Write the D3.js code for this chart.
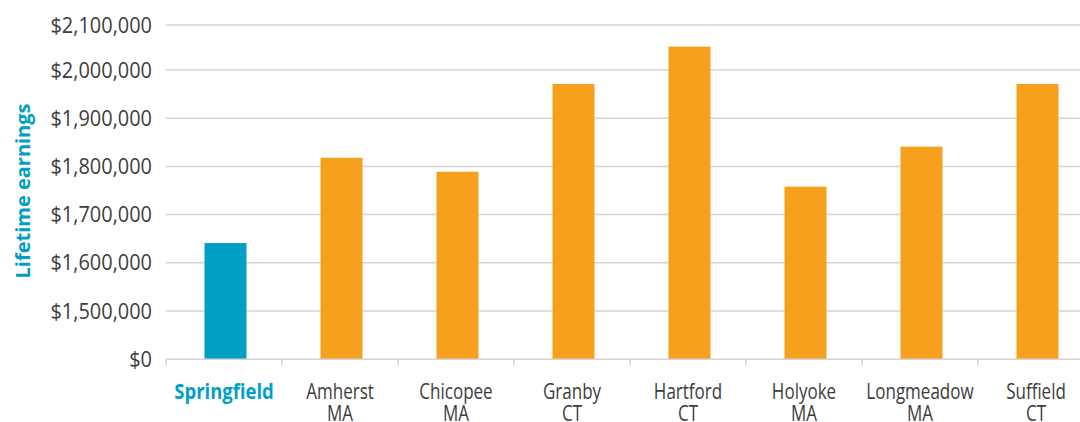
<!DOCTYPE html>
<html>
<head>
<meta charset="utf-8">
<script src="https://cdn.jsdelivr.net/npm/d3@7"></script>
<style>
  html, body { margin: 0; padding: 0; background: #fff; }
  svg { display: block; }
  text { font-family: "Open Sans", "Noto Sans", sans-serif; }
</style>
</head>
<body>
<svg id="chart" width="1080" height="422"></svg>
<script>
// ---- data ----
const cityNames = ["Springfield", "Amherst", "Chicopee", "Granby", "Hartford", "Holyoke", "Longmeadow", "Suffield"];
const stateNames = ["", "MA", "MA", "CT", "CT", "MA", "MA", "CT"];
const earnings = [1641000, 1818000, 1789000, 1971000, 2052000, 1758000, 1841000, 1971000];
const yTickValues = [0, 1500000, 1600000, 1700000, 1800000, 1900000, 2000000, 2100000];
const yTitle = "Lifetime earnings";

// ---- layout ----
const svg = d3.select("#chart");
const W = 1080;
const teal = "#00A0C6";
const orange = "#F6A01D";
const grid = "#D4D4D4";
const textCol = "#3C3C3C";

const x = d3.scaleBand()
  .domain(cityNames)
  .range([166, 1094])
  .paddingInner(0.638)
  .paddingOuter(0.319);

// broken axis: $0 at the baseline, then 1.5M..2.1M
const y = d3.scaleLinear()
  .domain([0, 1500000, 2000000, 2100000])
  .range([359.3, 311, 70, 25]);

// gridlines
svg.append("g")
  .selectAll("line")
  .data(yTickValues.filter(v => v > 0))
  .join("line")
  .attr("x1", 166).attr("x2", W)
  .attr("y1", d => y(d)).attr("y2", d => y(d))
  .attr("stroke", grid).attr("stroke-width", 1.5);

// y axis labels (condensed look)
const fmt = d3.format("$,");
svg.append("g")
  .selectAll("text")
  .data(yTickValues)
  .join("text")
  .attr("transform", d => `translate(152,${y(d)}) scale(0.95,1)`)
  .attr("text-anchor", "end")
  .attr("dy", "0.36em")
  .attr("fill", textCol)
  .style("font-size", "21px")
  .text(d => fmt(d));

// bars
svg.append("g")
  .selectAll("rect")
  .data(cityNames.map((c, i) => ({ c, v: earnings[i], i })))
  .join("rect")
  .attr("x", d => x(d.c) + 1.5)
  .attr("width", x.bandwidth())
  .attr("y", d => y(d.v))
  .attr("height", d => y(0) - y(d.v))
  .attr("fill", d => d.i === 0 ? teal : orange);

// x axis line and boundary ticks
const step = x.step();
const gapHalf = (step - x.bandwidth()) / 2;
svg.append("line")
  .attr("x1", 166).attr("x2", W)
  .attr("y1", y(0)).attr("y2", y(0))
  .attr("stroke", grid).attr("stroke-width", 1.5);
const bounds = cityNames.map(c => x(c) - gapHalf).concat([x(cityNames[cityNames.length - 1]) + x.bandwidth() + gapHalf]);
svg.append("g")
  .selectAll("line")
  .data(bounds)
  .join("line")
  .attr("x1", d => d).attr("x2", d => d)
  .attr("y1", y(0)).attr("y2", y(0) + 6)
  .attr("stroke", grid).attr("stroke-width", 1.5);

// x labels
const labelData = cityNames.map((c, i) => ({ c, s: stateNames[i], i }));
const cx = d => x(d.c) + x.bandwidth() / 2;
const xg = svg.append("g");
xg.selectAll("text.city")
  .data(labelData)
  .join("text")
  .attr("class", "city")
  .attr("transform", d => `translate(${cx(d)},398.5) scale(${d.i === 0 ? 0.88 : 0.81},1)`)
  .attr("text-anchor", "middle")
  .style("font-size", "21px")
  .attr("fill", d => d.i === 0 ? teal : textCol)
  .style("font-weight", d => d.i === 0 ? "bold" : "normal")
  .text(d => d.c);
xg.selectAll("text.state")
  .data(labelData.filter(d => d.s))
  .join("text")
  .attr("class", "state")
  .attr("transform", d => `translate(${cx(d)},421) scale(0.81,1)`)
  .attr("text-anchor", "middle")
  .style("font-size", "21px")
  .attr("fill", textCol)
  .text(d => d.s);

// y title
svg.append("text")
  .attr("transform", "translate(30,191) rotate(-90)")
  .attr("text-anchor", "middle")
  .attr("fill", teal)
  .style("font-size", "20px")
  .style("font-weight", "bold")
  .text(yTitle);
</script>
</body>
</html>
